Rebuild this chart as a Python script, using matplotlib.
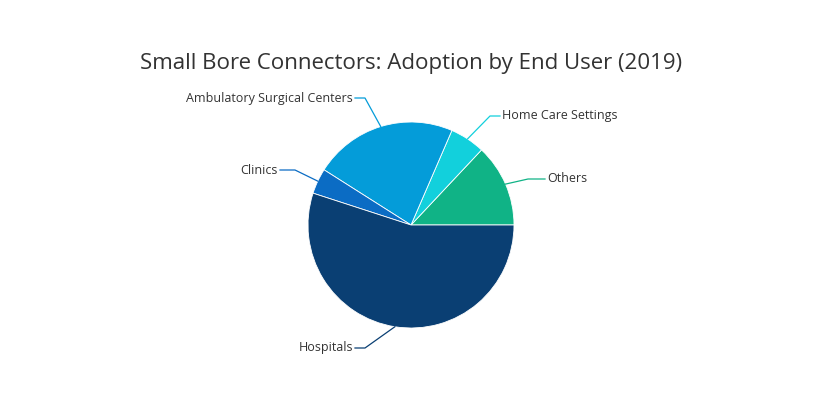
import numpy as np
import matplotlib
matplotlib.use("Agg")
import matplotlib.pyplot as plt

categories = ["Others", "Home Care Settings", "Ambulatory Surgical Centers", "Clinics", "Hospitals"]
values = [13.0, 5.5, 22.5, 4.0, 55.0]
colors = ["#10b386", "#12d0dc", "#049cd9", "#0b6cc4", "#0a3f73"]

W, H = 820, 400
cx, cy, R = 411, 225, 103
fig = plt.figure(figsize=(8.2, 4.0), dpi=100)
fig.patch.set_facecolor("white")
fig.text(411 / W, 1 - 63 / H, "Small Bore Connectors: Adoption by End User (2019)",
         ha="center", va="center", fontsize=16, color="#333333", family="Open Sans")

ax = fig.add_axes([(cx - R) / W, (H - cy - R) / H, 2 * R / W, 2 * R / H])
ax.pie(values, colors=colors, startangle=0, counterclock=True, radius=1,
       wedgeprops=dict(linewidth=0.6, edgecolor="white"))
ax.set_xlim(-1, 1)
ax.set_ylim(-1, 1)
ax.axis("off")

def d(px, py):
    return ((px - cx) / R, (cy - py) / R)

# leader elbow / end points (pixels), text side
layout = [((528, 179), (545, 179), "left"),
          ((490, 116), (500, 116), "left"),
          ((365, 98), (355, 98), "right"),
          ((295, 170), (280, 170), "right"),
          ((365, 348), (355, 348), "right")]

cum = np.cumsum([0] + values)
for i, (name, col) in enumerate(zip(categories, colors)):
    mid = np.deg2rad((cum[i] + cum[i + 1]) / 2 / 100 * 360)
    ex, ey = np.cos(mid), np.sin(mid)
    (e1, e2, side) = layout[i]
    p1, p2 = d(*e1), d(*e2)
    ax.plot([ex, p1[0], p2[0]], [ey, p1[1], p2[1]], color=col, lw=0.9, clip_on=False)
    tx = p2[0] + (0.02 if side == "left" else -0.02)
    ax.text(tx, p2[1], name, ha=side, va="center", fontsize=9,
            color="#333333", family="Open Sans", clip_on=False)

fig.savefig("out.png", dpi=100, facecolor="white")
